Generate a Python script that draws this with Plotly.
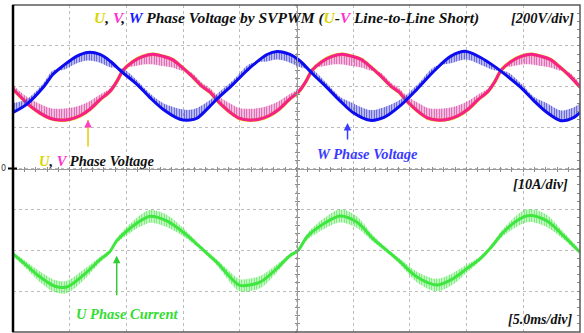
import plotly.graph_objects as go

# ---------------- data ----------------
# time in ms (5 ms/div, 10 div)
t_uv = [0.00, 0.88, 1.50, 2.38, 3.26,
        4.06, 5.03, 5.91, 6.79, 7.68, 8.56, 9.17, 9.70, 10.59, 11.47, 12.39, 13.23, 14.02, 14.82, 15.70, 16.67, 17.38, 17.99, 18.61, 19.23, 19.93,
        20.73, 21.70, 22.58, 23.46, 24.35, 25.23, 25.84, 26.37, 27.26, 28.14, 29.06, 29.90, 30.69, 31.49, 32.37, 33.34, 34.05, 34.66, 35.28, 35.90, 36.60,
        37.40, 38.37, 39.25, 40.13, 41.02, 41.90, 42.51, 43.04, 43.93, 44.81, 45.73, 46.57, 47.36, 48.16, 49.04,
        50.00]
# U and V phase voltage (identical, line-to-line short), volts
v_uv = [-12, -61, -94, -129, -154,
        -163, -159, -142, -110, -63, -22, 27, 80, 124, 149, 159, 149, 134, 100, 56, 2, -27, -66, -100, -129, -154,
        -163, -159, -142, -110, -63, -22, 27, 80, 124, 149, 159, 149, 134, 100, 56, 2, -27, -66, -100, -129, -154,
        -163, -159, -142, -110, -63, -22, 27, 80, 124, 149, 159, 149, 134, 100, 56,
        -2]
# extent of the PWM ripple hairs from the U/V trace, volts
hair_uv = [20, 25, 35, 45, 50,
           55, 55, 50, 40, 25, 15, 12, 12, -25, -40, -50, -48, -40, -20, 15, 18, 20, 25, 35, 45, 50,
           55, 55, 50, 40, 25, 15, 12, 12, -25, -40, -50, -48, -40, -20, 15, 18, 20, 25, 35, 45, 50,
           55, 55, 50, 40, 25, 15, 12, 12, -25, -40, -50, -48, -40, -20, 15,
           18]

t_w = [0.00, 1.23, 2.65, 3.53, 4.41, 5.64, 6.61, 7.67, 8.55, 9.70, 10.93, 12.08, 13.23, 14.73, 15.61,
       16.23, 17.37, 17.99, 19.40, 20.90, 22.40, 23.28, 24.43, 25.31, 26.46, 27.69, 28.84, 29.98, 31.48,
       32.72, 34.13, 35.63, 37.13, 38.62, 39.95, 41.27, 42.42, 43.56, 44.80, 45.94, 47.09, 48.32, 49.47, 50.00]
v_w = [-126, -85, -4, 61, 102, 150, 168, 158, 126, 68, 12, -53, -110, -159, -163,
       -154, -95, -60, 12, 93, 158, 173, 158, 126, 61, -4, -69, -126, -164,
       -150, -94, -12, 77, 150, 173, 142, 101, 53, -4, -69, -126, -166, -150, -126]
hair_w = [45, 25, 20, 20, -20, -35, -40, -40, -30, 20, 20, 20, 30, 50, 50,
          50, 30, 25, 20, 20, -35, -40, -40, -30, 20, 20, 20, 45, 50,
          50, 30, 20, 20, -35, -40, -35, -20, 20, 20, 20, 45, 50, 50, 45]

t_i = [0.00, 1.20, 2.38, 3.70, 4.73, 6.20, 7.67, 8.55, 9.14, 10.61, 11.49, 12.08, 13.55, 15.02,
       16.49, 17.08, 17.96, 19.43, 20.02, 21.78, 23.25, 24.43, 25.16, 25.90, 27.36, 28.84, 30.31, 31.77,
       32.95, 34.13, 35.60, 37.36, 38.83, 40.01, 41.18, 42.06, 43.24, 44.71, 45.59, 47.06, 48.53, 50.00]
# U phase current, amperes
i_u = [-0.9, -3.7, -6.5, -8.8, -9.0, -6.1, -2.3, -0.3, 2.3, 6.0, 7.6, 8.3, 7.2, 4.4,
       0.8, -0.7, -2.9, -7.4, -8.6, -7.8, -4.5, -1.3, 0.0, 3.2, 6.4, 8.4, 6.9, 2.8,
       0.0, -2.8, -6.5, -8.5, -6.9, -4.5, -2.1, 0.4, 4.4, 7.7, 8.5, 7.2, 3.6, -0.5]
ripple_i = [0.5, 0.9, 1.3, 1.5, 1.5, 1.3, 0.7, 0.5, 0.6, 1.2, 1.5, 1.6, 1.5, 1.0,
            0.5, 0.5, 0.7, 1.4, 1.5, 1.5, 1.0, 0.5, 0.5, 0.8, 1.3, 1.6, 1.4, 0.8,
            0.5, 0.7, 1.3, 1.5, 1.4, 1.0, 0.6, 0.5, 0.9, 1.5, 1.6, 1.5, 0.9, 0.5]

# ---------------- styling ----------------
YEL = "#e2dc00"
PINK = "#f7208a"
BLUE = "#0c0cee"
GREEN = "#3fe63f"
FONT = "Liberation Serif"

fig = go.Figure()
SPL = dict(shape="spline", smoothing=0.9)


def hatch(color):
    return dict(shape="|", size=2.5, solidity=0.55, fgcolor=color, fgopacity=1,
                bgcolor="rgba(0,0,0,0)")


# U phase (yellow, underneath V)
fig.add_trace(go.Scatter(x=t_uv, y=v_uv, mode="lines", line=dict(color=YEL, width=3.6, **SPL),
                         hoverinfo="skip"))
# V phase ripple + core
fig.add_trace(go.Scatter(x=t_uv, y=[a + b for a, b in zip(v_uv, hair_uv)], mode="lines",
                         line=dict(width=0, color=PINK, **SPL), hoverinfo="skip"))
fig.add_trace(go.Scatter(x=t_uv, y=v_uv, mode="lines", line=dict(color=PINK, width=3.0, **SPL),
                         fill="tonexty", fillcolor="rgba(0,0,0,0)",
                         fillpattern=hatch("#d94aa6"), hoverinfo="skip"))
# W phase ripple + core
fig.add_trace(go.Scatter(x=t_w, y=[a + b for a, b in zip(v_w, hair_w)], mode="lines",
                         line=dict(width=0, color=BLUE, **SPL), hoverinfo="skip"))
fig.add_trace(go.Scatter(x=t_w, y=v_w, mode="lines", line=dict(color=BLUE, width=3.0, **SPL),
                         fill="tonexty", fillcolor="rgba(0,0,0,0)",
                         fillpattern=hatch("#4646d8"), hoverinfo="skip"))
# U phase current (secondary axis)
fig.add_trace(go.Scatter(x=t_i, y=[a - b for a, b in zip(i_u, ripple_i)], mode="lines", yaxis="y2",
                         line=dict(width=0, color=GREEN, **SPL), hoverinfo="skip"))
fig.add_trace(go.Scatter(x=t_i, y=[a + b for a, b in zip(i_u, ripple_i)], mode="lines", yaxis="y2",
                         line=dict(width=0, color=GREEN, **SPL), fill="tonexty", fillcolor="rgba(0,0,0,0)",
                         fillpattern=hatch("#5ee85e"), hoverinfo="skip"))
fig.add_trace(go.Scatter(x=t_i, y=i_u, mode="lines", yaxis="y2",
                         line=dict(color=GREEN, width=3.0, **SPL), hoverinfo="skip"))

# dummy traces so that the center-line axes are instantiated
for xa, ya in [("x2", "y"), ("x3", "y"), ("x", "y3"), ("x", "y4"), ("x", "y5")]:
    fig.add_trace(go.Scatter(x=[0], y=[None], xaxis=xa, yaxis=ya, mode="lines", hoverinfo="skip"))

GRID = dict(showgrid=True, gridcolor="#bcbcbc", griddash="dot", gridwidth=1,
            showticklabels=False, ticks="", zeroline=False, showline=False)
CENTER = dict(showgrid=False, zeroline=False, showticklabels=False, showline=True,
              linecolor="#9a9a9a", linewidth=1, ticklen=2, tickwidth=1, tickcolor="#8a8a8a")

fig.update_layout(
    width=584, height=333,
    margin=dict(l=13, r=4, t=5, b=1),
    paper_bgcolor="white", plot_bgcolor="white",
    showlegend=False,
    xaxis=dict(range=[0, 50], dtick=5, tick0=0, **GRID),
    yaxis=dict(range=[-1200, 400], dtick=200, tick0=0, **GRID),
    yaxis2=dict(range=[-20, 60], overlaying="y", showgrid=False, zeroline=False,
                showticklabels=False, ticks="", showline=False),
    xaxis2=dict(range=[0, 50], overlaying="x", anchor="free", position=0.5, dtick=1, tick0=0,
                ticks="inside", **CENTER),
    xaxis3=dict(range=[0, 50], overlaying="x", anchor="free", position=0.5, dtick=1, tick0=0,
                ticks="outside", **CENTER),
    yaxis3=dict(range=[-1200, 400], overlaying="y", anchor="free", position=0.5, dtick=40, tick0=0,
                ticks="inside", **CENTER),
    yaxis4=dict(range=[-1200, 400], overlaying="y", anchor="free", position=0.5, dtick=40, tick0=0,
                ticks="outside", **CENTER),
    yaxis5=dict(range=[-1200, 400], overlaying="y", anchor="free", position=1, side="right",
                dtick=40, tick0=0, ticks="inside", ticklen=3, tickcolor="#8a8a8a",
                showgrid=False, zeroline=False, showticklabels=False, showline=False),
    shapes=[
        dict(type="rect", xref="paper", yref="paper", x0=0, x1=1, y0=0, y1=1,
             line=dict(color="#5a5a5a", width=1.5)),
        dict(type="line", xref="paper", yref="paper", x0=0, x1=0, y0=0, y1=1,
             line=dict(color="black", width=2.5)),
        dict(type="line", xref="paper", yref="paper", x0=-0.0088, x1=0.0071, y0=0.5, y1=0.5,
             line=dict(color="black", width=2)),
    ],
)


def span(c, s):
    return f"<span style='color:{c}'>{s}</span>"


def label(text, x, y, size=14.3, color="#111"):
    fig.add_annotation(xref="paper", yref="paper", x=x, y=y, xanchor="center", yanchor="middle",
                       text=f"<b><i>{text}</i></b>", showarrow=False,
                       font=dict(family=FONT, size=size, color=color))


TY = "#dcd400"
TV = "#ff33cc"
label(f"{span(TY, 'U')}, {span(TV, 'V')}, {span('#1a1aff', 'W')} Phase Voltage by SVPWM "
      f"({span(TY, 'U')}-{span(TV, 'V')} Line-to-Line Short)", 0.4815, 0.960, size=15.5)
label("[200V/div]", 0.934, 0.960, size=14.5)
label(f"{span(TY, 'U')}, {span(TV, 'V')} Phase Voltage", 0.149, 0.523, size=14.5)
label("W Phase Voltage", 0.626, 0.544, size=14.5, color="#3a3aff")
label("[10A/div]", 0.930, 0.453, size=14.3)
label("U Phase Current", 0.2005, 0.055, size=14.5, color="#33dd33")
label("[5.0ms/div]", 0.930, 0.037, size=14.0)

# channel zero marker
fig.add_annotation(xref="paper", yref="paper", x=-0.0159, y=0.5, text="0", showarrow=False,
                   xanchor="center", yanchor="middle", font=dict(family="DejaVu Sans", size=8, color="#333"))


def arrow(x, y, ay, color, head=2):
    fig.add_annotation(xref="paper", yref="paper", x=x, y=y, ax=0, ay=ay, text="", showarrow=True,
                       arrowhead=head, arrowsize=1, arrowwidth=1.5, arrowcolor=color, standoff=0)


arrow(0.1323, 0.6483, 28, "#e8cc00", head=0)
arrow(0.1323, 0.6483, 7, "#ff40c0", head=2)
arrow(0.590, 0.639, 18, "#3b3bff")
arrow(0.1829, 0.2330, 41, "#33cc33")

# remove the default page margin so the figure sits at the window's top-left corner
fig.write_html("out.html", config={"displayModeBar": False},
               post_script="document.body.style.margin='0px';")
